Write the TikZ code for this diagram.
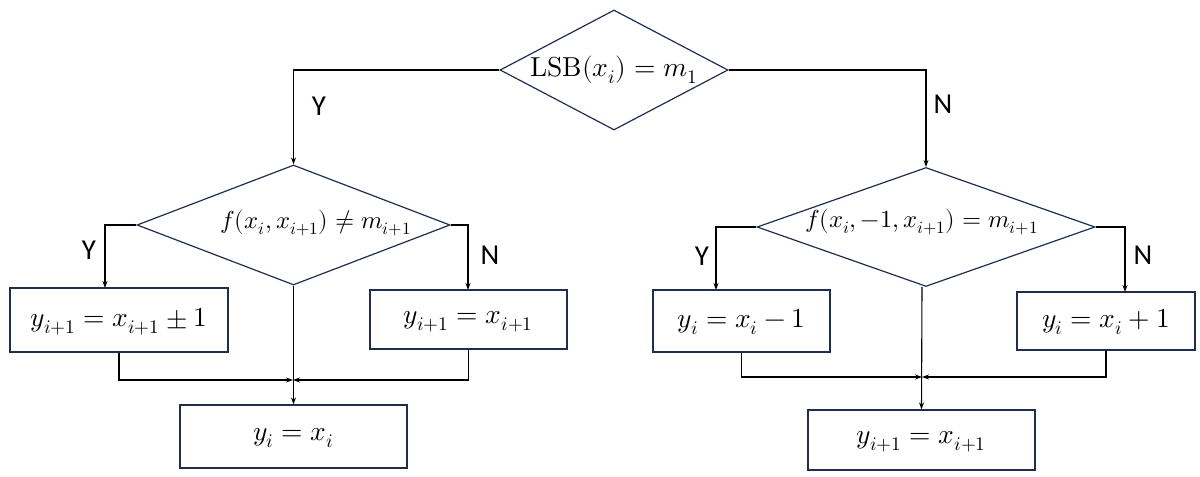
\documentclass[tikz,border=0pt]{standalone}
\usepackage{fontspec}
\setmainfont{Carlito}
\usepackage{unicode-math}
\setmathfont{Latin Modern Math}
\usetikzlibrary{shapes.geometric,arrows.meta}
\definecolor{nv}{HTML}{1F2D4F}
\begin{document}
\begin{tikzpicture}[x=1bp,y=-1bp,
  dia/.style={diamond,draw=nv,line width=1.2pt,inner sep=0pt},
  box/.style={rectangle,draw=nv,line width=1.2pt,inner sep=0pt},
  txt/.style={font=\fontsize{19}{22}\selectfont,scale=1.45},
  dtxt/.style={font=\fontsize{19}{22}\selectfont,scale=1.3},
  lab/.style={font=\fontsize{20}{24}\selectfont,scale=1.45},
  ln/.style={line width=1.1pt,black},
  ar/.style={ln,-{Stealth[length=7pt,width=5pt]}}]
\useasboundingbox (0,0) rectangle (1200,477);
\node[dia,minimum width=228bp,minimum height=120bp] (d0) at (614,70) {};
\node[txt] (t0) at (614,70) {$\symup{LSB}(x_i)=m_1$};
\node[dia,minimum width=313bp,minimum height=120bp] (d1) at (293.5,225) {};
\node[dtxt] (t1) at (316,223) {$f(x_i,x_{i+1})\neq m_{i+1}$};
\node[dia,minimum width=338bp,minimum height=119bp] (d2) at (926,227) {};
\node[dtxt] (t2) at (922,222) {$f(x_i,-1,x_{i+1})=m_{i+1}$};
\node[box,minimum width=218bp,minimum height=64bp] (b1) at (119,320) {};
\node[txt] (tb1) at (119,322) {$y_{i+1}=x_{i+1}\pm1$};
\node[box,minimum width=197bp,minimum height=59bp] (b2) at (468.5,319.5) {};
\node[txt] (tb2) at (468.5,322) {$y_{i+1}=x_{i+1}$};
\node[box,minimum width=227bp,minimum height=63bp] (b3) at (293.5,436.5) {};
\node[txt] (tb3) at (293.5,438) {$y_i=x_i$};
\node[box,minimum width=177bp,minimum height=62bp] (b4) at (741.5,321) {};
\node[txt] (tb4) at (741.5,322) {$y_i=x_i-1$};
\node[box,minimum width=178bp,minimum height=58bp] (b5) at (1106,321) {};
\node[txt] (tb5) at (1106,322) {$y_i=x_i+1$};
\node[box,minimum width=227bp,minimum height=60bp] (b6) at (921.5,440) {};
\node[txt] (tb6) at (921.5,442) {$y_{i+1}=x_{i+1}$};
\coordinate (j1) at (293,380);
\coordinate (j2) at (922,377);
\draw[ar] (d0.west) -| (d1.north);
\draw[ar] (d0.east) -| (d2.north);
\node[lab] (y0) at (319,106) {Y};
\node[lab] (n0) at (943,104) {N};
\draw[ar] (d1.west) -| (105,288);
\draw[ar] (d1.east) -| (468,290);
\node[lab] (y1) at (89,250) {Y};
\node[lab] (n1) at (490,255) {N};
\draw[ar] (d1.south) -- (b3.north);
\draw[ar] (b1.south) |- (j1);
\draw[ar] (b2.south) |- (j1);
\draw[ar] (d2.west) -| (716,290);
\draw[ar] (d2.east) -| (1125,292);
\node[lab] (y2) at (702,256) {Y};
\node[lab] (n2) at (1143,255) {N};
\draw[ar] (922,287) -- (b6.north);
\draw[ar] (b4.south) |- (j2);
\draw[ar] (b5.south) |- (j2);
\end{tikzpicture}
\end{document}
